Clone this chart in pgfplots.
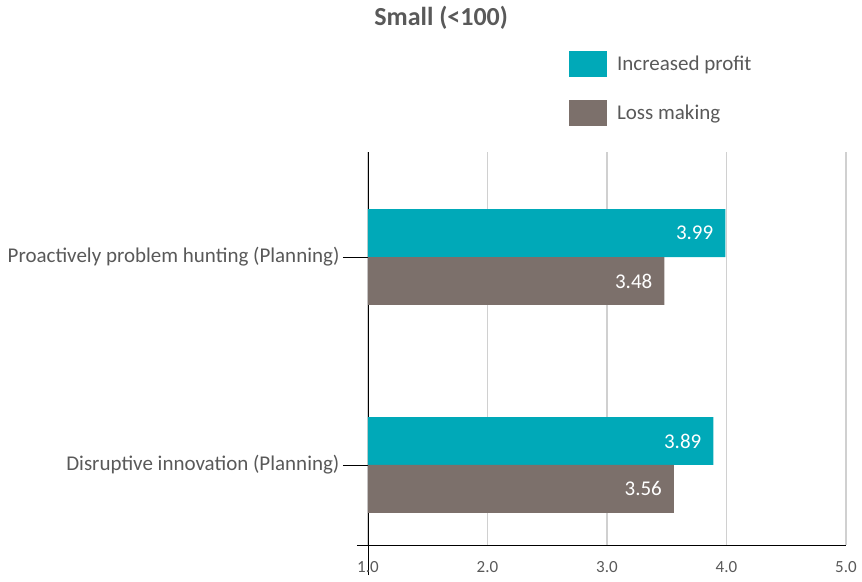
\documentclass[border=0pt]{standalone}
\usepackage{fontspec}
\setmainfont{Carlito}
\usepackage{pgfplots}
\pgfplotsset{compat=1.18}
\definecolor{teal1}{HTML}{00A9B8}
\definecolor{brown1}{HTML}{7C706B}
\definecolor{txt}{HTML}{595959}
\definecolor{grid1}{HTML}{D0D0D0}
\begin{document}
\begin{tikzpicture}
\path[use as bounding box] (-368pt,-36pt) rectangle (494pt,545pt);
\begin{axis}[
  at={(0,0)}, anchor=south west,
  scale only axis, width=478pt, height=393pt,
  xbar, bar width=0.23,
  xmin=1, xmax=5, ymin=-0.385, ymax=1.505,
  axis lines*=left,
  axis line style={black, line width=0.9pt},
  x axis line style={shorten <=-11pt},
  y axis line style={shorten <=-30pt},
  xtick={1,2,3,4,5},
  xticklabels={1.0,2.0,3.0,4.0,5.0},
  xticklabel style={font=\fontsize{17}{20}\selectfont, text=txt, yshift=12pt},
  xtick style={draw=none},
  ytick={0,1},
  yticklabels={Disruptive innovation (Planning), Proactively problem hunting (Planning)},
  yticklabel style={font=\fontsize{21}{25}\selectfont, text=txt},
  ytick style={black, line width=0.8pt},
  tick align=outside,
  major tick length=25pt,
  xmajorgrids,
  grid style={grid1, line width=1.2pt},
  title={Small (<100)},
  title style={at={(0.153,1.326)}, anchor=center, font=\bfseries\fontsize{26}{30}\selectfont, text=txt},
  legend image code/.code={\fill[#1] (0pt,-13pt) rectangle (38pt,13pt);},
  legend style={at={(0.414,1.263)}, anchor=north west, draw=none, fill=none,
    font=\fontsize{21}{25}\selectfont, text=txt, row sep=23pt,
    cells={anchor=west},
    /tikz/every odd column/.append style={column sep=8pt}},
  nodes near coords,
  point meta=explicit symbolic,
  nodes near coords style={anchor=east, text=white, font=\fontsize{21}{25}\selectfont, xshift=-8.5pt},
]
\addplot[fill=teal1, draw=none, bar shift=0.115] coordinates {(3.99,1) [3.99] (3.89,0) [3.89]};
\addplot[fill=brown1, draw=none, bar shift=-0.115] coordinates {(3.48,1) [3.48] (3.56,0) [3.56]};
\legend{Increased profit, Loss making}
\end{axis}
\end{tikzpicture}
\end{document}
